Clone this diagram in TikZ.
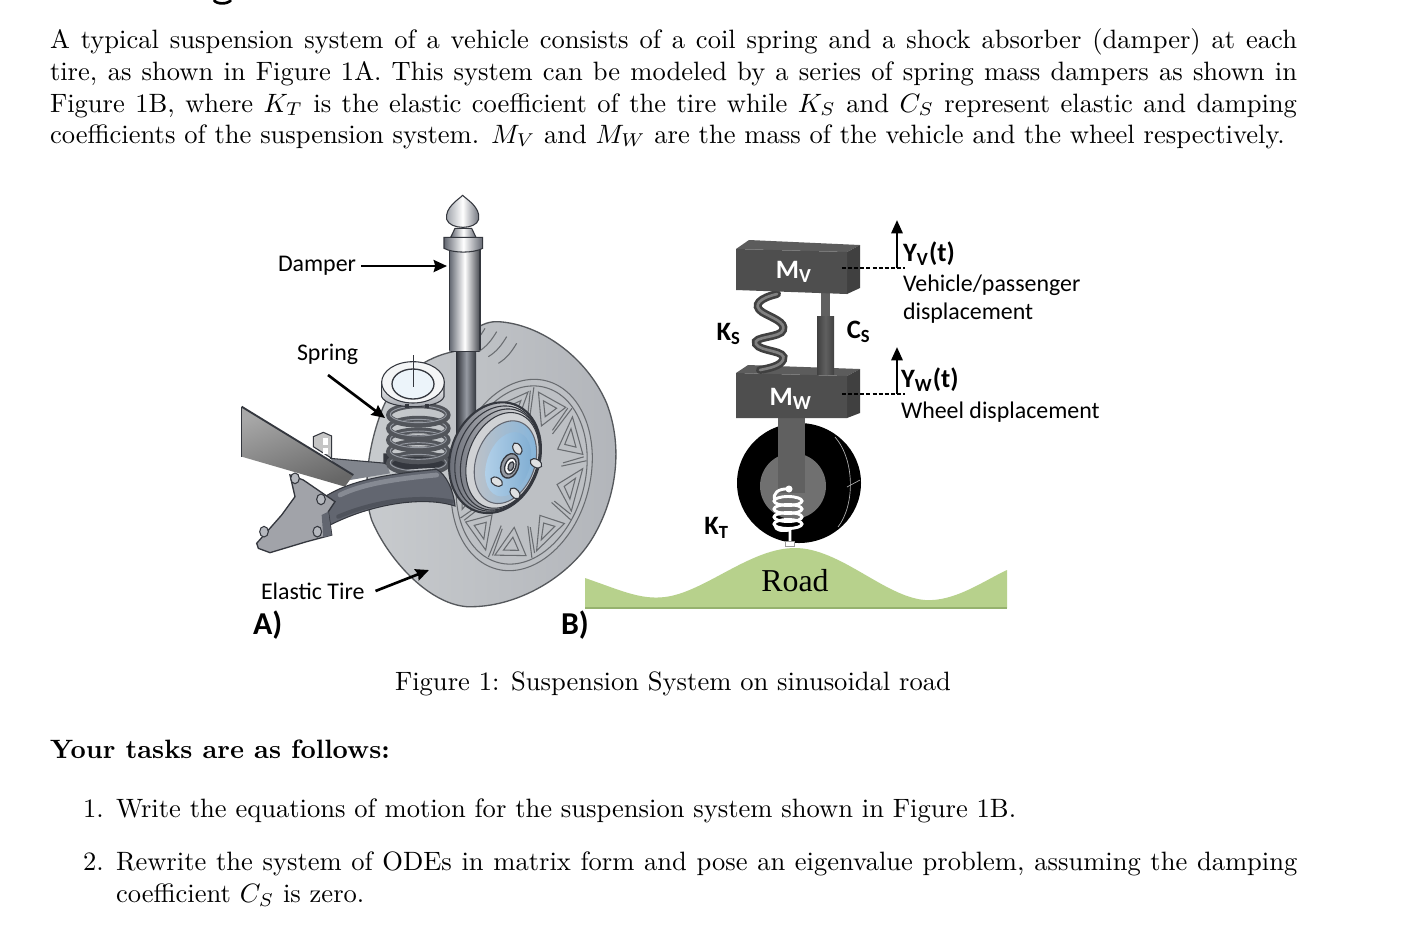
\documentclass[tikz,border=0pt]{standalone}
\usepackage{fontspec}
\newfontfamily\lab{Carlito}
\newfontfamily\roadf{Liberation Serif}
\usetikzlibrary{arrows.meta,calc}
\definecolor{tire}{RGB}{178,181,186}
\definecolor{tirelight}{RGB}{200,203,206}
\definecolor{tireedge}{RGB}{85,88,92}
\definecolor{rimline}{RGB}{105,108,112}
\definecolor{steel}{RGB}{98,102,112}
\definecolor{steeld}{RGB}{52,55,62}
\definecolor{steell}{RGB}{150,154,162}
\definecolor{beam}{RGB}{158,158,158}
\definecolor{blockf}{RGB}{78,78,78}
\definecolor{blockt}{RGB}{92,92,92}
\definecolor{blocks}{RGB}{64,64,64}
\definecolor{stem}{RGB}{96,96,96}
\definecolor{road}{RGB}{183,209,140}
\definecolor{roade}{RGB}{150,178,110}
\definecolor{hubblue}{RGB}{130,180,220}
\tikzset{
  bodyline/.style={anchor=base west,inner sep=0pt,outer sep=0pt},
  lbl/.style={inner sep=0pt,outer sep=0pt,font=\lab\fontsize{9}{11}\selectfont},
  blbl/.style={inner sep=0pt,outer sep=0pt,font=\lab\bfseries\fontsize{10}{12}\selectfont},
  blk/.style={inner sep=0pt,outer sep=0pt,font=\lab\bfseries\fontsize{12}{14}\selectfont},
  wlbl/.style={inner sep=0pt,outer sep=0pt,text=white,font=\lab\bfseries\fontsize{10}{12}\selectfont},
  callout/.style={line width=1pt,-{Stealth[length=5pt,width=4.5pt,inset=0.6pt]}},
  updisp/.style={line width=0.95pt,-{Stealth[length=5pt,width=4.2pt,inset=0pt]}},
  level/.style={line width=0.6pt,dash pattern=on 1.5pt off 0.8pt},
  edgeln/.style={draw=tireedge,line width=0.5pt},
  rimln/.style={draw=rimline,line width=0.4pt},
  coil/.style={draw=steeld!85!white,line width=2.2pt},
  coilhi/.style={draw=steell,line width=0.35pt},
  chrome/.style={left color=steel,right color=steel,middle color=white},
  darkln/.style={draw=steeld,line width=0.4pt},
}
\begin{document}
\begin{tikzpicture}[x=0.3767pt,y=-0.3767pt]
\useasboundingbox (0,0) rectangle (1424,930);
\fill[white] (0,0) rectangle (1424,930);
% cropped heading descender
\draw[line width=1pt,black] (214,0) .. controls (216,4.5) and (228,4.5) .. (231,0);
% body text
\node[bodyline] (l1) at (50,48) {\makebox[469.75pt][s]{A typical suspension system of a vehicle consists of a coil spring and a shock absorber (damper) at each}};
\node[bodyline] (l2) at (50,80) {\makebox[469.75pt][s]{tire, as shown in Figure 1A. This system can be modeled by a series of spring mass dampers as shown in}};
\node[bodyline] (l3) at (50,112) {\makebox[469.75pt][s]{Figure 1B, where $K_T$ is the elastic coefficient of the tire while $K_S$ and $C_S$ represent elastic and damping}};
\node[bodyline] (l4) at (50,143) {coefficients of the suspension system. $M_V$ and $M_W$ are the mass of the vehicle and the wheel respectively.};
\node[bodyline] (cap) at (395,690) {Figure 1: Suspension System on sinusoidal road};
\node[bodyline] (tasks) at (50,758) {\textbf{Your tasks are as follows:}};
\node[bodyline] (n1) at (83,817) {1.};
\node[bodyline] (t1) at (116,817) {Write the equations of motion for the suspension system shown in Figure 1B.};
\node[bodyline] (n2) at (83,870) {2.};
\node[bodyline] (t2) at (116,870) {\makebox[445pt][s]{Rewrite the system of ODEs in matrix form and pose an eigenvalue problem, assuming the damping}};
\node[bodyline] (t3) at (116,902) {coefficient $C_S$ is zero.};

% ---------- Figure A, coordinates as in a 3x crop at (240,180)
\begin{scope}[shift={(240,180)},scale=1/3]
 % tire
 \path[edgeln,left color=tirelight,right color=tire]
  (640,515) .. controls (680,465) and (720,422) .. (775,425)
  .. controls (900,432) and (1040,530) .. (1100,670)
  .. controls (1150,800) and (1130,950) .. (1060,1070)
  .. controls (990,1190) and (830,1285) .. (680,1280)
  .. controls (560,1270) and (440,1130) .. (395,1020)
  .. controls (365,930) and (385,790) .. (430,680)
  .. controls (470,590) and (560,530) .. (640,515) -- cycle;
 % rim with spoke pattern
 \begin{scope}[shift={(845,885)},rotate=-15]
  \draw[rimln,fill=tirelight!50!tire] (0,0) ellipse [x radius=205,y radius=292];
  \draw[rimln] (0,0) ellipse [x radius=190,y radius=272];
  \foreach \t in {0,40,...,320}{
   \draw[rimln] ($(\t-15:178 and 254)$) -- ($(\t:110 and 160)$) -- ($(\t+15:178 and 254)$) -- cycle;
   \draw[rimln] ($(\t-8:160 and 232)$) -- ($(\t:132 and 190)$) -- ($(\t+8:160 and 232)$) -- cycle;
   \draw[rimln] ($(\t+20:188 and 268)$) -- ($(\t+20:115 and 165)$);
   \draw[rimln] ($(\t+17:180 and 258)$) -- ($(\t+17:120 and 172)$);
  }
 \end{scope}
 % tread marks
 \foreach \a/\b in {700/450,735/445,770/455,800/470,830/490}{
  \draw[rimln] (\a,\b) .. controls (\a-15,\b+25) and (\a-30,\b+45) .. (\a-55,\b+60);
 }
 % beam and plate
 \fill[steel!80!white] (270,835) -- (440,850) -- (450,880) -- (330,900) -- cycle;
 \draw[darkln] (270,835) -- (440,850);
 \draw[darkln,fill=beam!60!white] (220,770) -- (250,757) -- (275,768) -- (275,835) -- (220,800) -- cycle;
 \fill[white] (248,775) rectangle (265,795);
 \fill[white] (248,805) rectangle (265,822);
 \path[left color=beam!90!white,right color=beam!65!black,shading angle=20]
   (5,680) -- (340,885) -- (315,920) -- (5,830) -- cycle;
 \draw[steeld,line width=0.7pt] (5,680) -- (340,885);
 \draw[steeld,line width=0.35pt] (5,680) -- (5,830);
 % damper rod and body
 \path[left color=steeld,right color=steeld,middle color=steell] (650,515) rectangle (708,780);
 \path[left color=steel,right color=steel!70!black,middle color=white] (628,205) rectangle (720,515);
 \draw[darkln] (628,205) -- (628,510) (720,205) -- (720,510) (632,515) -- (716,515);
 \path[darkln,chrome] (612,172) -- (728,172) -- (728,205) .. controls (700,220) and (640,220) .. (612,205) -- cycle;
 \path[darkln,chrome] (645,145) -- (695,145) -- (708,172) -- (632,172) -- cycle;
 \path[darkln,left color=steell,right color=steel,middle color=white]
   (668,46) .. controls (680,58) and (722,82) .. (716,118)
   .. controls (708,150) and (630,150) .. (620,118)
   .. controls (614,82) and (656,58) .. (668,46) -- cycle;
 % spring
 \path[fill=steeld] (430,820) -- (640,820) -- (640,860) -- (470,870) -- (430,850) -- cycle;
 \foreach \y in {850,815,780,745,705}{
  \draw[coil] (535,\y) ellipse [x radius=88,y radius=29];
  \draw[coilhi] (535,\y-2) ellipse [x radius=84,y radius=25];
 }
 % seat ring
 \path[darkln,top color=white,bottom color=steell]
   (425,605) -- (425,650) .. controls (440,690) and (600,690) .. (612,650) -- (612,605) -- cycle;
 \fill[steeld] (495,672) rectangle (507,685);
 \fill[steeld] (555,672) rectangle (567,685);
 \draw[darkln,fill=white!90!steell] (519,607) ellipse [x radius=94,y radius=62];
 \draw[steeld,line width=0.5pt,fill=hubblue!15!white] (519,612) ellipse [x radius=63,y radius=45];
 \draw[steeld,line width=0.25pt] (520,525) -- (520,620);
 % arm
 \path[darkln,fill=steel]
   (255,950) .. controls (340,895) and (470,880) .. (590,868)
   .. controls (620,885) and (640,930) .. (645,978)
   .. controls (560,950) and (410,965) .. (270,1035) -- cycle;
 \draw[steell,line width=1.8pt,line cap=round,opacity=.7] (300,945) .. controls (370,910) and (480,895) .. (590,885);
 \draw[steeld,line width=1.6pt,opacity=.4,line cap=round] (295,1010) .. controls (400,965) and (530,945) .. (635,965);
 % bracket
 \path[draw=steeld,line width=0.5pt,fill=steel!60!white]
   (150,885) -- (190,900) -- (285,965) -- (265,995) -- (275,1065) -- (200,1085)
   -- (90,1118) -- (55,1105) -- (50,1090) -- (125,1005) -- (165,950) -- cycle;
 \fill[steel] (245,1005) -- (265,995) -- (275,1065) -- (250,1072) -- cycle;
 \foreach \a/\b in {165/895,243/958,72/1055,232/1055}{
  \draw[darkln,fill=steell!70!white] (\a,\b) ellipse [x radius=13,y radius=16];
 }
 % brake disc
 \begin{scope}[shift={(765,833)},rotate=-20]
  \path[draw=steeld,line width=0.8pt,left color=steel,right color=white] (0,0) ellipse [x radius=133,y radius=170];
  \draw[darkln] (8,0) ellipse [x radius=123,y radius=162];
  \draw[darkln] (16,0) ellipse [x radius=113,y radius=156];
  \draw[darkln,fill=steell!45!white] (24,0) ellipse [x radius=104,y radius=148];
  \path[draw=steel,line width=0.4pt,left color=steell!60!white,right color=hubblue] (34,2) ellipse [x radius=88,y radius=128];
  \path[left color=hubblue!60!white,right color=hubblue!90!steel] (44,5) ellipse [x radius=64,y radius=100];
  \draw[steeld,line width=0.5pt,fill=steell] (50,8) ellipse [x radius=26,y radius=38];
  \draw[steeld,line width=0.5pt,fill=white] (52,8) ellipse [x radius=16,y radius=25];
  \draw[steeld,line width=0.5pt,fill=steel!70!white] (54,8) ellipse [x radius=8,y radius=14];
 \end{scope}
 \foreach \a/\b/\r in {832/806/-60,888/850/-30,770/905/-30,825/940/-50}{
  \draw[darkln,fill=white!70!steell,rotate around={\r:(\a,\b)}] (\a,\b) ellipse [x radius=19,y radius=12];
 }
\end{scope}
% Figure A labels
\node[lbl,anchor=west] (damper) at (278,266) {Damper};
\coordinate (damperend) at (447,266);
\draw[callout] (damper.east) ++(5,0) -- (damperend);
\node[lbl,anchor=west] (spring) at (297,354) {Spring};
\coordinate (springstart) at (328,375);
\coordinate (springend) at (385,418);
\draw[callout] (springstart) -- (springend);
\node[lbl,anchor=west] (tirel) at (261,591) {Elastic Tire};
\coordinate (tireend) at (429,570);
\draw[callout] (tirel.east) ++(11,0) -- (tireend);
\node[blk,anchor=west] (A) at (253,625) {A)};
\node[blk,anchor=west] (B) at (561,625) {B)};

% ---------- Figure B
% road
\path[fill=road] (585,578) .. controls (620,590) and (640,600) .. (665,597)
 .. controls (705,592) and (750,548) .. (795,548)
 .. controls (840,548) and (885,597) .. (925,600)
 .. controls (955,602) and (985,580) .. (1007,570)
 -- (1007,608) -- (585,608) -- cycle;
\draw[roade,line width=0.4pt] (585,608) -- (1007,608);
% wheel
\fill[black] (799,483) ellipse [x radius=62,y radius=60];
\draw[white!70!black,line width=0.25pt] (835,437) .. controls (855,460) and (855,505) .. (838,527);
\draw[white!70!black,line width=0.25pt] (847,487) -- (860,480);
\fill[stem!90!white] (793,486) circle [radius=33];
\fill[stem] (778,410) rectangle (805,493);
% tire spring
\foreach \y in {501,509,517,524}{
 \draw[white,line width=1.1pt] (788,\y) ellipse [x radius=14,y radius=4.5];
}
\draw[white,line width=1.1pt,line join=round]
 (789,489) .. controls (778,488) and (772,494) .. (775,500);
\draw[white,line width=1.1pt,line join=round]
 (775,525) .. controls (775,531) and (782,531) .. (790,530) -- (790,543);
\fill[white] (789,489) circle [radius=3.5];
\draw[white!60!black,line width=0.3pt,fill=white] (785,541) rectangle (794,546);
% Mw block
\path[fill=blockt] (736,373) -- (748,365) -- (860,369) -- (847,376) -- cycle;
\path[fill=blocks] (847,376) -- (860,369) -- (860,413) -- (847,418) -- cycle;
\path[fill=blockf] (736,373) -- (847,376) -- (847,418) -- (736,418) -- cycle;
% Cs damper
\fill[stem] (821,293) rectangle (830,318);
\path[left color=blocks,right color=blocks,middle color=stem] (817,316) rectangle (834,374);
% Ks spring
\draw[blocks,line width=3pt,line cap=round]
 (777,294) .. controls (760,298) and (752,305) .. (762,312)
 .. controls (772,318) and (786,322) .. (783,330)
 .. controls (781,338) and (752,336) .. (756,344)
 .. controls (760,352) and (788,350) .. (783,360)
 .. controls (780,366) and (770,368) .. (760,370);
\draw[stem!80!white,line width=1pt,line cap=round]
 (777,294) .. controls (760,298) and (752,305) .. (762,312)
 .. controls (772,318) and (786,322) .. (783,330)
 .. controls (781,338) and (752,336) .. (756,344)
 .. controls (760,352) and (788,350) .. (783,360)
 .. controls (780,366) and (770,368) .. (760,370);
% Mv block
\path[fill=blockt] (736,249) -- (749,240) -- (860,245) -- (847,252) -- cycle;
\path[fill=blocks] (847,252) -- (860,245) -- (860,288) -- (847,294) -- cycle;
\path[fill=blockf] (736,249) -- (847,252) -- (847,294) -- (736,290) -- cycle;
\node[wlbl] (mv) at (794,272) {M\textsubscript{\fontsize{7.5}{9}\selectfont V}};
\node[wlbl] (mw) at (791,399) {M\textsubscript{\fontsize{7.5}{9}\selectfont W}};
\node[blbl] (ks) at (729,334) {K\textsubscript{\fontsize{7}{9}\selectfont S}};
\node[blbl] (cs) at (859,332) {C\textsubscript{\fontsize{7}{9}\selectfont S}};
\node[blbl] (kt) at (717,528) {K\textsubscript{\fontsize{7}{9}\selectfont T}};
\node[inner sep=0pt,font=\roadf\fontsize{12}{14}\selectfont] (roadl) at (795,581) {Road};
% displacement markers
\coordinate (vl) at (842,268); \coordinate (vr) at (905,268);
\coordinate (vb) at (897,268); \coordinate (vt) at (897,220);
\draw[level] (vl) -- (vr);
\draw[updisp] (vb) -- (vt);
\coordinate (wl) at (842,394); \coordinate (wr) at (905,394);
\coordinate (wb) at (897,394); \coordinate (wt) at (897,347);
\draw[level] (wl) -- (wr);
\draw[updisp] (wb) -- (wt);
\node[blbl,anchor=west] (yv) at (903,254) {Y\textsubscript{\fontsize{7}{9}\selectfont V}(t)};
\node[lbl,anchor=west] (vp) at (903,285) {Vehicle/passenger};
\node[lbl,anchor=west] (dp) at (903,313) {displacement};
\node[blbl,anchor=west] (yw) at (901,380) {Y\textsubscript{\fontsize{7}{9}\selectfont W}(t)};
\node[lbl,anchor=west] (wd) at (901,412) {Wheel displacement};
\end{tikzpicture}
\end{document}
